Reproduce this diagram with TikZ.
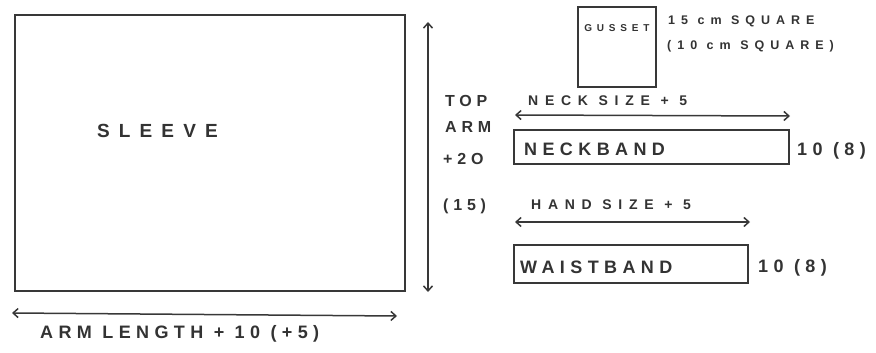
\documentclass[tikz,border=0pt]{standalone}
\usepackage{fontspec}
\newfontfamily\hand[LetterSpace=30]{Liberation Sans}
\newfontfamily\handw[LetterSpace=48]{Liberation Sans}
\usetikzlibrary{arrows.meta}
\tikzset{
  pen/.style={draw=black!78, line width=1.7pt},
  box/.style={pen, rectangle, inner sep=0pt, anchor=north west},
  dim/.style={draw=black!78, line width=1.5pt, {Straight Barb[length=5pt,width=9pt]}-{Straight Barb[length=5pt,width=9pt]}},
  lab/.style={font=\hand\fontsize{18}{18}\selectfont\bfseries, text=black!80, inner sep=0pt},
  side/.style={font=\hand\fontsize{16}{16}\selectfont\bfseries, text=black!80, inner sep=0pt},
  small/.style={font=\handw\fontsize{12.5}{12.5}\selectfont\bfseries, text=black!80, inner sep=0pt},
  mid/.style={font=\handw\fontsize{14}{14}\selectfont\bfseries, text=black!80, inner sep=0pt},
}
\begin{document}
\begin{tikzpicture}[x=1pt,y=-1pt]
\useasboundingbox (0,0) rectangle (876,353);
% sleeve
\node[box, minimum width=390pt, minimum height=276pt] (sleeve) at (14,14) {};
\node[lab, font=\handw\fontsize{19}{19}\selectfont\bfseries, anchor=west] (sleevet) at (97,131) {SLEEVE};
% vertical dimension
\coordinate (v1) at (428,22);
\coordinate (v2) at (428,292);
\draw[dim] (v1) -- (v2);
\node[side, anchor=west] (t1) at (445,101) {TOP};
\node[side, anchor=west] (t2) at (445,127) {ARM};
\node[side, anchor=west] (t3) at (443,159) {+2O};
\node[side, anchor=west] (t4) at (443,206) {(15)};
% horizontal dimension
\coordinate (h1) at (12,313);
\coordinate (h2) at (397,316);
\draw[dim] (h1) -- (h2);
\node[lab, anchor=west] (armlen) at (40,334) {ARM LENGTH + 10 (+5)};
% gusset
\node[box, minimum width=78pt, minimum height=80pt] (gusset) at (577,6) {};
\node[small, font=\handw\fontsize{10}{10}\selectfont\bfseries] (gussett) at (gusset.north |- 0,28) {GUSSET};
\node[small, anchor=west] (sq1) at (668,21) {15 cm SQUARE};
\node[small, anchor=west] (sq2) at (667,46) {(10 cm SQUARE)};
% neckband
\coordinate (n1) at (515,115);
\coordinate (n2) at (790,116);
\draw[dim] (n1) -- (n2);
\node[mid, anchor=west] (necksize) at (528,101) {NECK SIZE + 5};
\node[box, minimum width=275pt, minimum height=34pt] (neckband) at (513,129) {};
\node[lab, anchor=west] (neckbandt) at (524,149) {NECKBAND};
\node[lab, anchor=west] (nb10) at (797,151) {10 (8)};
% waistband
\coordinate (w1) at (515,222);
\coordinate (w2) at (750,222);
\draw[dim] (w1) -- (w2);
\node[mid, anchor=west] (handsize) at (531,205) {HAND SIZE + 5};
\node[box, minimum width=234pt, minimum height=38pt] (waistband) at (513,244) {};
\node[lab, anchor=west] (waistbandt) at (520,267) {WAISTBAND};
\node[lab, anchor=west] (wb10) at (758,268) {10 (8)};
\end{tikzpicture}
\end{document}
